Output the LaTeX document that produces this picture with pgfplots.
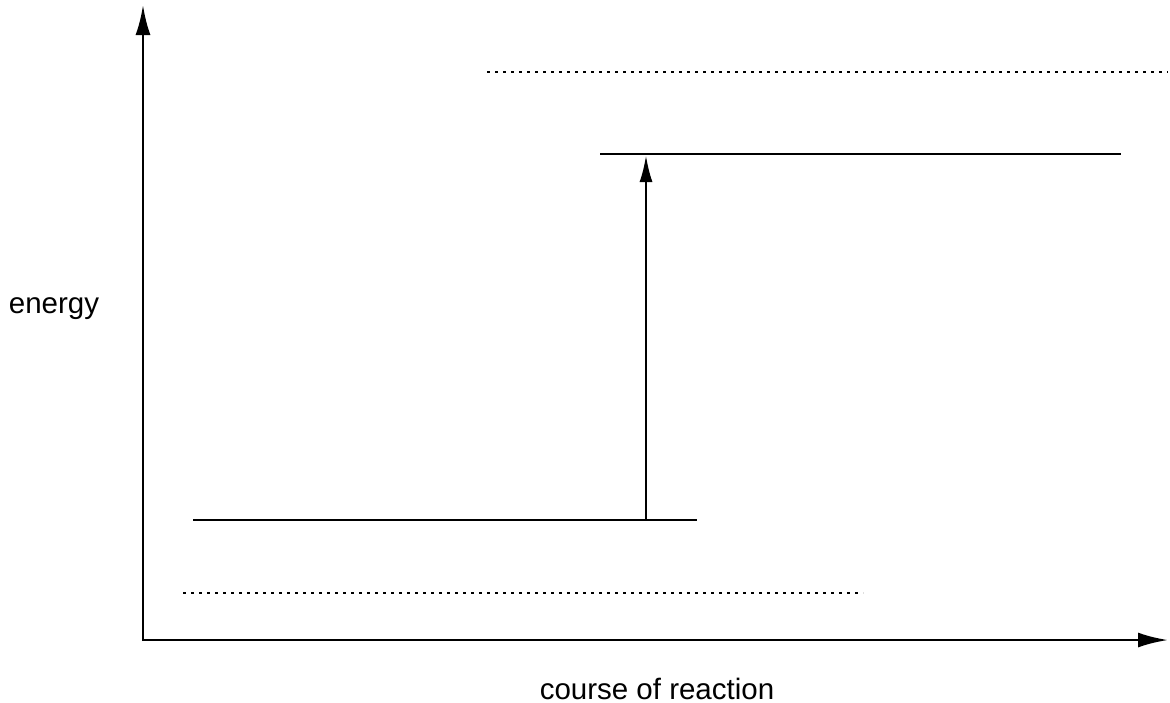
\documentclass[border=0pt]{standalone}
\usepackage{pgfplots}
\pgfplotsset{compat=1.18}
\usetikzlibrary{arrows.meta}
\usepackage{fontspec}
\setmainfont{Liberation Sans}
\begin{document}
\begin{tikzpicture}
\begin{axis}[
  width=468pt, height=280.8pt, scale only axis,
  xmin=0, xmax=1170, ymin=0, ymax=702, y dir=reverse,
  hide axis, clip=false,
]
% axes
\addplot[black, line width=1.1pt, -{Latex[length=12pt,width=6pt]}] coordinates {(143,641) (143,5)};
\addplot[black, line width=1.1pt, -{Latex[length=12pt,width=6pt]}] coordinates {(142,640) (1168,640)};
% energy levels
\addplot[black, line width=1.05pt] coordinates {(193,520) (697,520)};
\addplot[black, line width=1.05pt] coordinates {(600,154) (1121,154)};
% arrow
\addplot[black, line width=1.05pt, -{Latex[length=10.8pt,width=5.2pt]}] coordinates {(646,520) (646,155)};
% dotted lines
\addplot[black, line width=1.0pt, dash pattern=on 1.0pt off 2.2pt] coordinates {(487,72) (1168,72)};
\addplot[black, line width=1.0pt, dash pattern=on 1.0pt off 2.2pt] coordinates {(183,593) (863,593)};
% labels
\node[font=\fontsize{11.8}{14}\selectfont, anchor=center, inner sep=0pt] at (axis cs:54,309) {energy};
\node[font=\fontsize{11.8}{14}\selectfont, anchor=center, inner sep=0pt] at (axis cs:657,689) {course of reaction};
\end{axis}
\pgfresetboundingbox
\path (current axis.south west) rectangle (current axis.north east);
\end{tikzpicture}
\end{document}
